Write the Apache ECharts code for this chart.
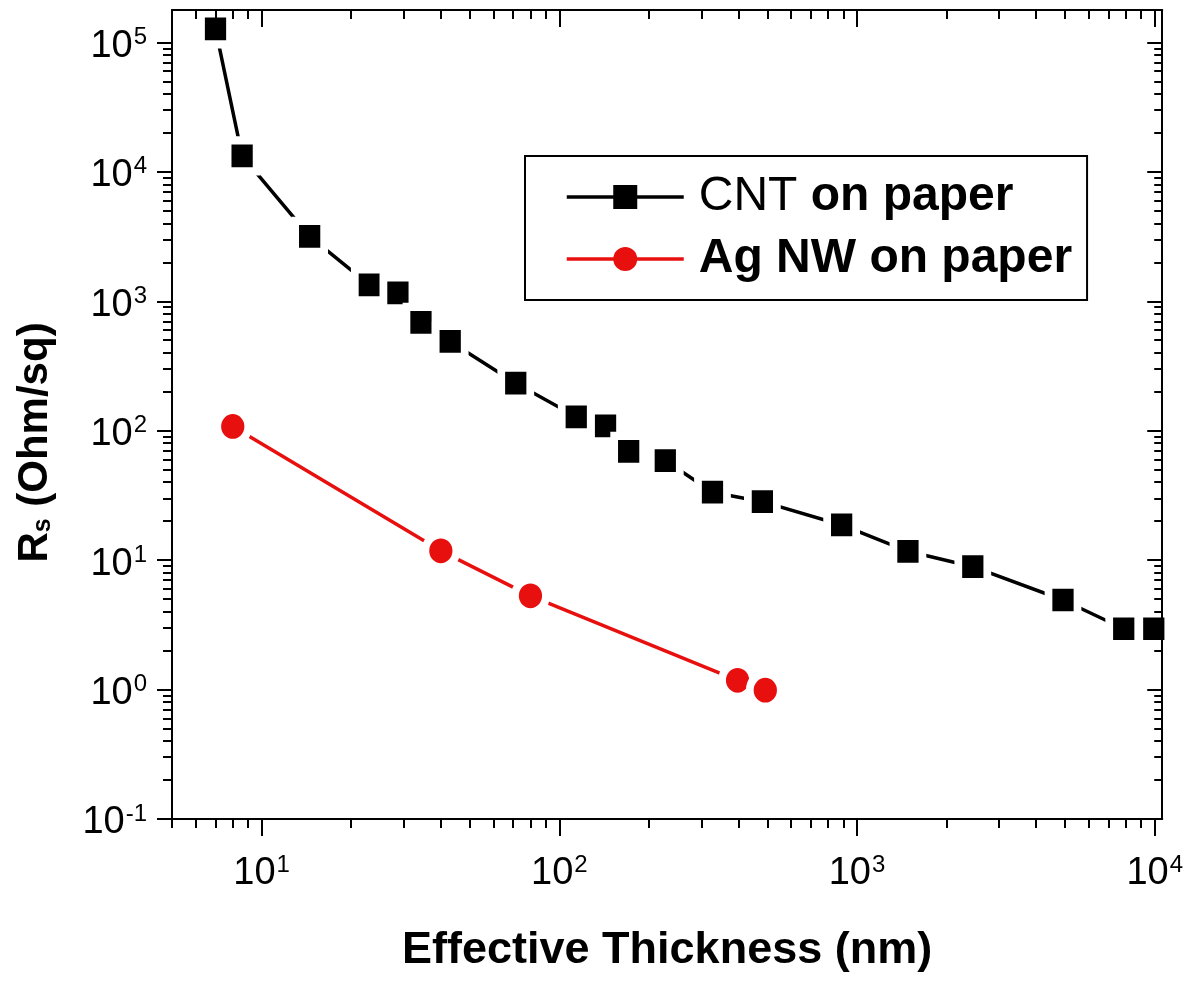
<!DOCTYPE html>
<html>
<head>
<meta charset="utf-8">
<script src="https://cdn.jsdelivr.net/npm/echarts@6/dist/echarts.min.js"></script>
<style>
  html, body { margin: 0; padding: 0; background: #fff; }
  #chart { width: 1186px; height: 981px; }
</style>
</head>
<body>
<div id="chart"></div>
<script>
// Sheet resistance vs. effective film thickness
const cntThickness = [7, 8.6, 14.5, 23, 28.7, 34.3, 43, 71.4, 114, 143, 171, 227, 327, 481, 888, 1483, 2449, 4920, 7870, 9930];
const cntRs = [127000, 13300, 3170, 1340, 1160, 687, 489, 233, 128, 109, 69.3, 58.8, 33.5, 28.3, 18.7, 11.7, 8.9, 4.92, 2.95, 2.95];
const agThickness = [8, 40, 80, 397, 492];
const agRs = [108, 11.8, 5.3, 1.18, 0.99];

// axis ranges and decade tick exponents
const xRange = [5, 10600];
const yRange = [0.1, 178000];
const xDecades = [1, 2, 3, 4];
const yDecades = [-1, 0, 1, 2, 3, 4, 5];

const FONT = "'Liberation Sans', Arial, Helvetica, sans-serif";
const lg = Math.log10;
const xExt = [lg(xRange[0]), lg(xRange[1])];
const yExt = [-1, lg(yRange[1])];

// 2..9 sub-ticks of every decade inside a range, as exponents
function minorTicks(range) {
  const out = [];
  for (let d = Math.floor(lg(range[0])); d <= Math.ceil(lg(range[1])); d++) {
    for (let k = 2; k <= 9; k++) {
      const v = k * Math.pow(10, d);
      if (v >= range[0] && v <= range[1]) out.push(lg(v));
    }
  }
  return out;
}

const powerRich = {
  m: { fontFamily: FONT, fontSize: 38, lineHeight: 42, color: '#000' },
  e: { fontFamily: FONT, fontSize: 24, lineHeight: 8, verticalAlign: 'top', color: '#000', padding: [0, 0, 0, 1] }
};
const powerLabel = v => '{m|10}{e|' + Math.round(v) + '}';

// tick-only axes laid over the log axes, working in exponent space;
// the decade axes also draw the frame on top of the markers
function tickAxis(ext, position, ticks, len, inside, frame, label) {
  const ax = {
    type: 'value', position: position, min: ext[0], max: ext[1],
    axisLine: { show: !!frame, onZero: false, lineStyle: { color: '#000', width: 2 } },
    splitLine: { show: false },
    axisTick: { show: true, customValues: ticks, length: len, inside: inside,
                lineStyle: { color: '#000', width: 2 } },
    axisLabel: { show: false },
    silent: true,
    z: 10
  };
  if (label) {
    ax.axisLabel = {
      show: true, customValues: ticks, margin: label.margin, padding: [8, 0, 0, 0],
      formatter: powerLabel, rich: powerRich, color: '#000'
    };
  }
  return ax;
}

const chart = echarts.init(document.getElementById('chart'), null, { renderer: 'canvas' });

const xMajor = tickAxis(xExt, 'bottom', xDecades, 17, false, true, { margin: 26 });
xMajor.name = 'Effective Thickness (nm)';
xMajor.nameLocation = 'middle';
xMajor.nameGap = 109;
xMajor.nameTextStyle = { fontFamily: FONT, fontSize: 45, fontWeight: 'bold', color: '#000', lineHeight: 46 };

const yMajor = tickAxis(yExt, 'left', yDecades, 15, false, true, { margin: 25 });
yMajor.name = '{R|R}{s|s}{t| (Ohm/sq)}';
yMajor.nameLocation = 'middle';
yMajor.nameRotate = 90;
yMajor.nameGap = 116;
yMajor.nameTextStyle = {
  padding: [0, 56, 0, 0],
  rich: {
    R: { fontFamily: FONT, fontSize: 42, fontWeight: 'bold', lineHeight: 42, color: '#000' },
    s: { fontFamily: FONT, fontSize: 25, fontWeight: 'bold', lineHeight: 25, verticalAlign: 'bottom', color: '#000' },
    t: { fontFamily: FONT, fontSize: 42, fontWeight: 'bold', lineHeight: 42, color: '#000' }
  }
};

const legendRich = {
  rp: { fontFamily: FONT, fontSize: 48, fontWeight: 'normal', lineHeight: 48, color: '#000', padding: [0, 0, 0, 10] },
  b:  { fontFamily: FONT, fontSize: 48, fontWeight: 'bold', lineHeight: 48, color: '#000' },
  bp: { fontFamily: FONT, fontSize: 48, fontWeight: 'bold', lineHeight: 48, color: '#000', padding: [0, 0, 0, 10] }
};

chart.setOption({
  animation: false,
  backgroundColor: '#fff',
  textStyle: { fontFamily: FONT },
  grid: { left: 172, right: 21, top: 10, bottom: 162, show: false },
  legend: {
    orient: 'vertical', left: 525, top: 156,
    padding: [17, 15, 17, 40],
    itemWidth: 117, itemHeight: 30, itemGap: 14,
    borderColor: '#000', borderWidth: 2,
    itemStyle: { borderWidth: 0 },
    lineStyle: { width: 3.5 },
    textStyle: { fontFamily: FONT, fontSize: 48, fontWeight: 'bold', lineHeight: 48, color: '#000', rich: legendRich },
    formatter: name => name === 'CNT on paper' ? '{rp|CNT}{b| on paper}' : '{bp|' + name + '}',
    data: ['CNT on paper', 'Ag NW on paper']
  },
  xAxis: [
    { type: 'log', logBase: 10, min: xRange[0], max: xRange[1], show: false },
    xMajor,
    tickAxis(xExt, 'bottom', minorTicks(xRange), 9, false, false),
    tickAxis(xExt, 'top', xDecades, 17, true, true),
    tickAxis(xExt, 'top', minorTicks(xRange), 9, true, false)
  ],
  yAxis: [
    { type: 'log', logBase: 10, min: yRange[0], max: yRange[1], show: false },
    yMajor,
    tickAxis(yExt, 'left', minorTicks(yRange), 9, false, false),
    tickAxis(yExt, 'right', yDecades, 15, true, true),
    tickAxis(yExt, 'right', minorTicks(yRange), 8, true, false)
  ],
  series: [
    {
      name: 'CNT on paper', type: 'line', xAxisIndex: 0, yAxisIndex: 0,
      data: cntThickness.map((x, i) => [x, cntRs[i]]),
      symbol: 'rect', symbolSize: [29, 31],
      itemStyle: { color: '#000', borderColor: '#fff', borderWidth: 8 },
      lineStyle: { color: '#000', width: 3.5 },
      z: 3
    },
    {
      name: 'Ag NW on paper', type: 'line', xAxisIndex: 0, yAxisIndex: 0,
      data: agThickness.map((x, i) => [x, agRs[i]]),
      symbol: 'circle', symbolSize: [31, 33],
      itemStyle: { color: '#e8100e', borderColor: '#fff', borderWidth: 8 },
      lineStyle: { color: '#e8100e', width: 3.5 },
      z: 3
    }
  ]
});
</script>
</body>
</html>
